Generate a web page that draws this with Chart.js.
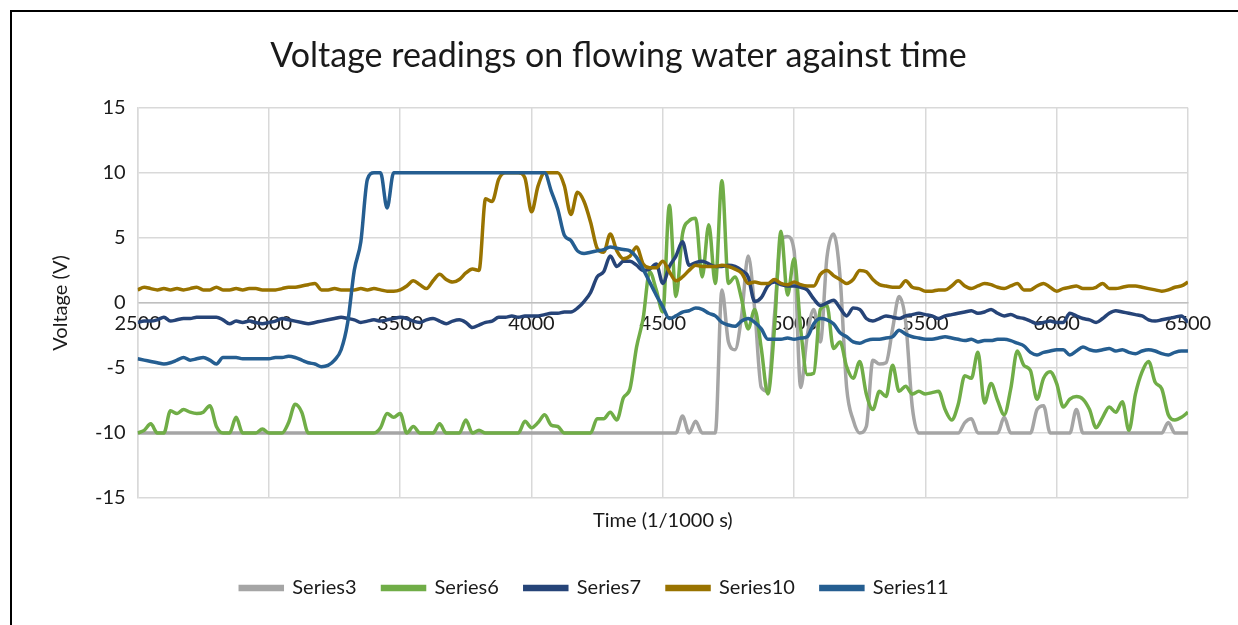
<!DOCTYPE html>
<html>
<head>
<meta charset="utf-8">
<script src="https://cdn.jsdelivr.net/npm/chart.js@4.4.0/dist/chart.umd.min.js"></script>
<style>
  html, body { margin: 0; padding: 0; background: #fff; }
  #wrap { width: 1238px; height: 625px; }
</style>
</head>
<body>
<div id="wrap"><canvas id="voltage-chart" width="1238" height="625"></canvas></div>
<script>
// time axis, 1/1000 s
const timeLabels = [
  2500, 2525, 2550, 2575, 2600, 2625, 2650, 2675, 2700, 2725, 2750, 2775, 2800, 2825, 2850, 2875,
  2900, 2925, 2950, 2975, 3000, 3025, 3050, 3075, 3100, 3125, 3150, 3175, 3200, 3225, 3250, 3275,
  3300, 3325, 3350, 3375, 3400, 3425, 3450, 3475, 3500, 3525, 3550, 3575, 3600, 3625, 3650, 3675,
  3700, 3725, 3750, 3775, 3800, 3825, 3850, 3875, 3900, 3925, 3950, 3975, 4000, 4025, 4050, 4075,
  4100, 4125, 4150, 4175, 4200, 4225, 4250, 4275, 4300, 4325, 4350, 4375, 4400, 4425, 4450, 4475,
  4500, 4525, 4550, 4575, 4600, 4625, 4650, 4675, 4700, 4725, 4750, 4775, 4800, 4825, 4850, 4875,
  4900, 4925, 4950, 4975, 5000, 5025, 5050, 5075, 5100, 5125, 5150, 5175, 5200, 5225, 5250, 5275,
  5300, 5325, 5350, 5375, 5400, 5425, 5450, 5475, 5500, 5525, 5550, 5575, 5600, 5625, 5650, 5675,
  5700, 5725, 5750, 5775, 5800, 5825, 5850, 5875, 5900, 5925, 5950, 5975, 6000, 6025, 6050, 6075,
  6100, 6125, 6150, 6175, 6200, 6225, 6250, 6275, 6300, 6325, 6350, 6375, 6400, 6425, 6450, 6475,
  6500
];

const series3 = [
  -10, -10, -10, -10, -10, -10, -10, -10, -10, -10, -10, -10, -10, -10, -10, -10,
  -10, -10, -10, -10, -10, -10, -10, -10, -10, -10, -10, -10, -10, -10, -10, -10,
  -10, -10, -10, -10, -10, -10, -10, -10, -10, -10, -10, -10, -10, -10, -10, -10,
  -10, -10, -10, -10, -10, -10, -10, -10, -10, -10, -10, -10, -10, -10, -10, -10,
  -10, -10, -10, -10, -10, -10, -10, -10, -10, -10, -10, -10, -10, -10, -10, -10,
  -10, -10, -10, -8.7, -10, -9.1, -10, -10, -10, 1.0, -3.0, -3.6, -1.0, 3.6, -0.5, -6.5,
  -6.8, -1.0, 4.8, 5.1, 4.0, -6.5, -2.5, -0.5, -3.0, 3.5, 5.3, 2.0, -6.5, -9.0, -10, -9.5,
  -4.4, -4.7, -4.6, -2.0, 0.5, -1.5, -8.0, -10, -10, -10, -10, -10, -10, -10, -9.2, -8.9,
  -10, -10, -10, -10, -8.8, -10, -10, -10, -10, -8.2, -7.9, -10, -10, -10, -10, -8.2,
  -10, -10, -10, -10, -10, -10, -10, -10, -10, -10, -10, -10, -10, -9.2, -10, -10,
  -10
];

const series6 = [
  -10, -9.8, -9.3, -10, -10, -8.3, -8.5, -8.2, -8.4, -8.5, -8.4, -7.9, -9.5, -10, -10, -8.8,
  -10, -10, -10, -9.7, -10, -10, -10, -9.2, -7.8, -8.4, -10, -10, -10, -10, -10, -10,
  -10, -10, -10, -10, -10, -9.6, -8.5, -8.8, -8.5, -10, -9.5, -10, -10, -10, -9.3, -10,
  -10, -10, -9.0, -10, -9.8, -10, -10, -10, -10, -10, -10, -9.1, -9.6, -9.2, -8.6, -9.4,
  -9.5, -10, -10, -10, -10, -10, -8.9, -8.9, -8.4, -9.0, -7.3, -6.6, -3.4, -1.2, 2.4, 1.0,
  -0.7, 7.5, 0.5, 5.3, 6.3, 6.5, 2.0, 6.0, 1.5, 9.4, 1.5, 2.0, 0.3, -2.0, -0.5, -3.5,
  -7.0, -2.0, 5.5, 0.6, 3.4, -2.0, -5.5, -5.4, -0.5, -0.2, -3.5, -3.0, -4.9, -5.8, -4.5, -7.0,
  -8.2, -6.8, -7.2, -4.8, -6.8, -6.4, -7.0, -6.8, -7.0, -6.9, -6.8, -8.2, -9.0, -7.8, -5.6, -5.8,
  -3.8, -7.7, -6.2, -7.5, -8.6, -6.6, -3.7, -4.8, -5.2, -7.4, -5.8, -5.3, -6.2, -8.0, -7.4, -7.2,
  -7.4, -8.2, -9.6, -8.8, -8.0, -8.4, -7.6, -9.8, -7.0, -5.3, -4.5, -6.1, -6.6, -8.6, -9.0, -8.8,
  -8.4
];

const series7 = [
  -1.5, -1.4, -1.4, -1.3, -1.1, -1.4, -1.3, -1.2, -1.2, -1.1, -1.1, -1.1, -1.1, -1.3, -1.6, -1.4,
  -1.5, -1.4, -1.5, -1.6, -1.5, -1.4, -1.2, -1.3, -1.4, -1.5, -1.6, -1.5, -1.4, -1.3, -1.2, -1.1,
  -1.2, -1.3, -1.5, -1.4, -1.3, -1.4, -1.3, -1.2, -1.1, -1.2, -1.4, -1.5, -1.3, -1.2, -1.4, -1.6,
  -1.4, -1.3, -1.5, -1.9, -1.7, -1.5, -1.4, -1.1, -1.1, -1.0, -1.1, -1.0, -1.0, -1.0, -0.9, -0.8,
  -0.8, -0.7, -0.7, -0.4, 0.1, 0.8, 2.0, 2.4, 3.6, 2.8, 3.2, 3.2, 2.9, 2.5, 2.6, 3.0,
  1.5, 2.8, 3.6, 4.7, 2.9, 3.1, 3.2, 3.0, 2.8, 2.8, 2.9, 2.8, 2.5, 2.0, 0.1, 0.4,
  1.3, 1.6, 1.4, 1.3, 1.3, 1.2, 1.0, 0.3, -0.2, 0.0, 0.2, -0.4, -1.0, -0.4, -0.5, -1.2,
  -1.4, -1.2, -1.0, -1.1, -1.2, -1.0, -0.9, -0.8, -0.9, -1.0, -1.2, -1.0, -0.9, -0.8, -0.7, -0.6,
  -0.8, -0.7, -0.5, -0.8, -1.0, -0.9, -1.1, -1.2, -1.4, -1.6, -1.5, -1.4, -1.5, -1.5, -0.8, -1.0,
  -1.2, -1.3, -1.5, -1.2, -0.8, -0.6, -0.7, -0.8, -0.9, -1.0, -1.3, -1.4, -1.3, -1.2, -1.1, -1.0,
  -1.5
];

const series10 = [
  1.0, 1.2, 1.1, 1.0, 1.1, 1.0, 1.1, 1.0, 1.1, 1.2, 1.0, 1.0, 1.2, 1.0, 1.0, 1.1,
  1.0, 1.1, 1.1, 1.0, 1.0, 1.0, 1.1, 1.2, 1.2, 1.3, 1.4, 1.5, 1.0, 1.0, 1.1, 1.0,
  1.0, 1.0, 1.1, 1.0, 1.1, 1.0, 0.9, 0.9, 1.0, 1.3, 1.7, 1.4, 1.1, 1.7, 2.2, 1.8,
  1.6, 1.8, 2.3, 2.6, 2.5, 8.0, 7.8, 9.5, 10, 10, 10, 9.6, 7.0, 9.0, 10, 10,
  10, 9.0, 6.8, 8.5, 7.8, 6.2, 4.2, 3.9, 5.3, 4.0, 3.4, 3.6, 4.3, 3.0, 2.7, 2.7,
  3.2, 2.4, 1.7, 2.0, 2.5, 2.9, 2.8, 2.8, 2.8, 2.9, 2.8, 2.6, 2.3, 1.5, 1.6, 1.5,
  1.5, 1.8, 1.5, 1.4, 1.6, 1.4, 1.3, 1.3, 2.2, 2.5, 2.1, 1.8, 1.5, 1.8, 2.5, 2.4,
  1.8, 1.4, 1.3, 1.2, 1.2, 1.7, 1.2, 1.1, 0.9, 0.9, 1.0, 1.0, 1.3, 1.7, 1.3, 1.1,
  1.3, 1.5, 1.4, 1.2, 1.1, 1.3, 1.5, 1.0, 1.0, 1.3, 1.5, 1.2, 0.9, 1.1, 1.2, 1.3,
  1.1, 1.1, 1.2, 1.5, 1.1, 1.1, 1.2, 1.3, 1.3, 1.2, 1.1, 1.0, 0.9, 1.0, 1.2, 1.3,
  1.6
];

const series11 = [
  -4.3, -4.4, -4.5, -4.6, -4.7, -4.6, -4.4, -4.2, -4.4, -4.3, -4.2, -4.4, -4.7, -4.2, -4.2, -4.2,
  -4.3, -4.3, -4.3, -4.3, -4.3, -4.2, -4.2, -4.1, -4.2, -4.4, -4.6, -4.7, -4.9, -4.8, -4.4, -3.6,
  -1.5, 2.5, 4.7, 9.5, 10, 10, 7.3, 10, 10, 10, 10, 10, 10, 10, 10, 10,
  10, 10, 10, 10, 10, 10, 10, 10, 10, 10, 10, 10, 10, 10, 10, 8.6,
  7.2, 5.2, 4.8, 4.0, 3.8, 3.9, 4.0, 4.1, 4.3, 4.2, 4.1, 4.0, 3.5, 2.6, 1.6, 0.6,
  -0.3, -1.2, -1.0, -0.7, -0.6, -0.4, -0.5, -0.8, -1.0, -1.5, -1.7, -1.8, -1.4, -1.2, -1.5, -2.0,
  -2.8, -2.8, -2.8, -2.7, -2.8, -2.7, -2.6, -1.6, -1.2, -1.3, -1.6, -2.3, -2.6, -3.0, -3.1, -2.9,
  -2.8, -2.8, -2.7, -2.6, -2.1, -2.4, -2.6, -2.7, -2.8, -2.8, -2.7, -2.6, -2.7, -2.8, -2.9, -2.8,
  -3.0, -2.9, -2.9, -2.8, -2.8, -2.9, -3.1, -3.3, -3.8, -4.0, -3.8, -3.7, -3.6, -3.6, -4.0, -3.7,
  -3.4, -3.6, -3.7, -3.6, -3.5, -3.7, -3.6, -3.8, -3.9, -3.7, -3.6, -3.7, -3.9, -4.0, -3.8, -3.7,
  -3.7
];

const yTicks = [-15, -10, -5, 0, 5, 10, 15];

const textColor = '#1a1a1a';
const fontFamily = 'Lato, "Open Sans", sans-serif';

function lineSet(label, data, color, order) {
    return {
        label: label,
        data: data,
        borderColor: color,
        backgroundColor: color,
        borderWidth: 3.5,
        pointRadius: 0,
        cubicInterpolationMode: 'monotone',
        order: order
    };
}

// plain frame round the chart, like the sheet's chart border
const framePlugin = {
    id: 'frame',
    beforeDraw(chart) {
        const ctx = chart.ctx;
        ctx.save();
        ctx.fillStyle = '#fff';
        ctx.fillRect(0, 0, chart.width, chart.height);
        ctx.strokeStyle = '#000';
        ctx.lineWidth = 2;
        ctx.strokeRect(11, 11, chart.width + 20, chart.height + 20);
        ctx.restore();
    },
    // legend sits a little left of the page centre in the original
    afterLayout(chart) {
        if (chart.legend) {
            chart.legend.left -= 24;
            chart.legend.right -= 24;
        }
    }
};

const ctx = document.getElementById('voltage-chart').getContext('2d');
new Chart(ctx, {
    type: 'line',
    data: {
        labels: timeLabels,
        datasets: [
            lineSet('Series3', series3, '#A5A5A5', 5),
            lineSet('Series6', series6, '#70AD47', 4),
            lineSet('Series7', series7, '#264478', 3),
            lineSet('Series10', series10, '#997300', 2),
            lineSet('Series11', series11, '#255E91', 1)
        ]
    },
    options: {
        responsive: false,
        animation: false,
        layout: {
            padding: { left: 49, right: 50, top: 36, bottom: 17 }
        },
        plugins: {
            title: {
                display: true,
                text: 'Voltage readings on flowing water against time',
                color: textColor,
                font: { family: fontFamily, size: 34, weight: 'normal' },
                padding: { top: 0, bottom: 31 }
            },
            legend: {
                position: 'bottom',
                labels: {
                    color: textColor,
                    font: { family: fontFamily, size: 20 },
                    boxWidth: 42,
                    boxHeight: 3,
                    padding: 26,
                    sort: (a, b) => a.datasetIndex - b.datasetIndex
                }
            },
            tooltip: { enabled: false }
        },
        scales: {
            x: {
                type: 'linear',
                min: 2500,
                max: 6500,
                position: { y: 0 },
                ticks: {
                    stepSize: 500,
                    color: textColor,
                    font: { family: fontFamily, size: 20 },
                    maxRotation: 0,
                    padding: 9,
                    callback: (value) => String(value)
                },
                grid: { color: '#D9D9D9', lineWidth: 1.5, drawTicks: false },
                border: { color: '#BFBFBF', width: 1.5 }
            },
            xTitle: {
                type: 'linear',
                min: 2500,
                max: 6500,
                position: 'bottom',
                ticks: { display: false },
                grid: { display: false, drawTicks: false },
                border: { display: false },
                title: {
                    display: true,
                    text: 'Time (1/1000 s)',
                    color: textColor,
                    font: { family: fontFamily, size: 20 },
                    padding: { top: 11, bottom: 19 }
                }
            },
            y: {
                min: -15,
                max: 15,
                afterBuildTicks(scale) {
                    scale.ticks = yTicks.map(v => ({ value: v }));
                },
                ticks: {
                    color: textColor,
                    font: { family: fontFamily, size: 20 },
                    padding: 12
                },
                grid: { color: '#D9D9D9', lineWidth: 1.5, drawTicks: false },
                border: { color: '#D9D9D9', width: 1.5 },
                title: {
                    display: true,
                    text: 'Voltage (V)',
                    color: textColor,
                    font: { family: fontFamily, size: 20 },
                    padding: { top: 0, bottom: 10 }
                }
            }
        }
    },
    plugins: [framePlugin]
});
</script>
</body>
</html>
